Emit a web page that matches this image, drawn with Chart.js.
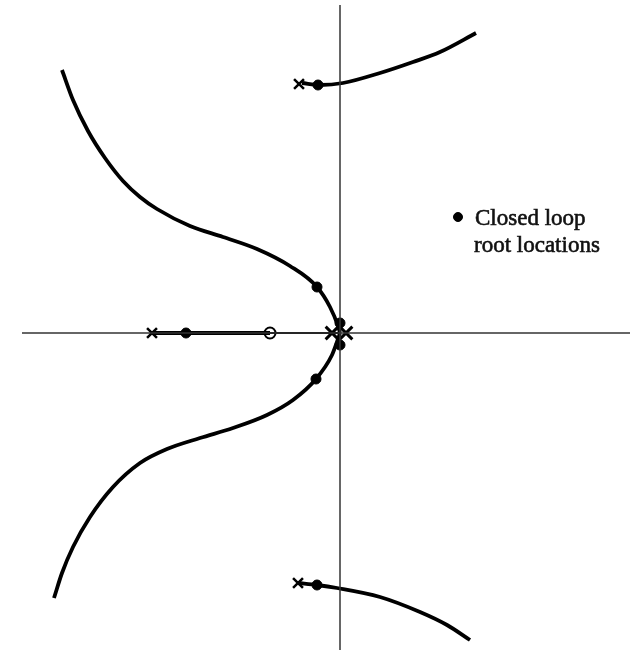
<!DOCTYPE html>
<html>
<head>
<meta charset="utf-8">
<script src="https://cdn.jsdelivr.net/npm/chart.js@4/dist/chart.umd.min.js"></script>
<style>
  body { margin: 0; background: #fff; }
  #lugar { display: block; }
</style>
</head>
<body>
<canvas id="lugar" width="632" height="657"></canvas>
<script>
// ejes del plano s (re, im)
const ejeReal = [{ x: -3.18, y: 0 }, { x: 2.90, y: 0 }];
const ejeImag = [{ x: 0, y: 3.28 }, { x: 0, y: -3.17 }];

// ramas que salen del polo doble en el origen
const ramaSup = [
    { x: -2.78, y: 2.63 }, { x: -2.67, y: 2.33 }, { x: -2.52, y: 2.02 }, { x: -2.35, y: 1.75 },
    { x: -2.17, y: 1.52 }, { x: -2.00, y: 1.36 }, { x: -1.83, y: 1.24 }, { x: -1.50, y: 1.07 },
    { x: -1.17, y: 0.96 }, { x: -0.83, y: 0.84 }, { x: -0.50, y: 0.67 }, { x: -0.23, y: 0.46 },
    { x: -0.10, y: 0.26 }, { x: -0.02, y: 0.07 }, { x: 0, y: 0 }
];
const ramaInf = [
    { x: -2.86, y: -2.65 }, { x: -2.78, y: -2.40 }, { x: -2.67, y: -2.14 }, { x: -2.50, y: -1.84 },
    { x: -2.27, y: -1.54 }, { x: -2.00, y: -1.30 }, { x: -1.73, y: -1.16 }, { x: -1.40, y: -1.05 },
    { x: -1.07, y: -0.95 }, { x: -0.73, y: -0.82 }, { x: -0.47, y: -0.67 }, { x: -0.24, y: -0.46 },
    { x: -0.08, y: -0.22 }, { x: -0.02, y: -0.06 }, { x: 0, y: 0 }
];

// ramas de los polos complejos
const ramaPoloSup = [
    { x: -0.38, y: 2.50 }, { x: -0.20, y: 2.48 }, { x: 0.03, y: 2.50 }, { x: 0.40, y: 2.60 },
    { x: 0.73, y: 2.71 }, { x: 1.00, y: 2.81 }, { x: 1.36, y: 3.00 }
];
const ramaPoloInf = [
    { x: -0.42, y: -2.50 }, { x: -0.23, y: -2.52 }, { x: -0.03, y: -2.55 }, { x: 0.40, y: -2.64 },
    { x: 0.80, y: -2.79 }, { x: 1.07, y: -2.92 }, { x: 1.30, y: -3.07 }
];

// tramos sobre el eje real
const tramoCero = [{ x: -1.88, y: 0 }, { x: -0.70, y: 0 }];
const tramoOrigen = [{ x: -0.70, y: 0 }, { x: 0, y: 0 }];

const polos = [
    { x: -1.88, y: 0 }, { x: -0.41, y: 2.49 }, { x: -0.42, y: -2.50 }
];
// polo doble en el origen
const polosOrigen = [{ x: -0.08, y: 0 }, { x: 0.06, y: 0 }];
const ceros = [{ x: -0.70, y: 0 }];
const raicesLazoCerrado = [
    { x: -1.54, y: 0 }, { x: -0.22, y: 2.48 }, { x: -0.23, y: -2.52 },
    { x: -0.23, y: 0.46 }, { x: -0.24, y: -0.46 }, { x: 0, y: 0.10 }, { x: 0, y: -0.12 }
];

const leyendaPunto = [{ x: 1.18, y: 1.16 }];
const leyendaTexto = ['Closed loop', 'root locations'];


function linea(data, ancho, color = '#000') {
    return {
        data: data,
        showLine: true,
        borderColor: color,
        borderWidth: ancho,
        pointRadius: 0,
        cubicInterpolationMode: 'monotone',
        fill: false
    };
}

// texto de la leyenda al lado del punto
const textoLeyenda = {
    id: 'textoLeyenda',
    afterDatasetsDraw(chart) {
        const ctx = chart.ctx;
        const px = chart.scales.x.getPixelForValue(leyendaPunto[0].x);
        const py = chart.scales.y.getPixelForValue(leyendaPunto[0].y);
        ctx.save();
        ctx.fillStyle = '#111';
        ctx.strokeStyle = '#111';
        ctx.lineWidth = 0.6;
        ctx.font = '23px "Liberation Serif", serif';
        ctx.textBaseline = 'alphabetic';
        ctx.fillText(leyendaTexto[0], px + 17, py + 8);
        ctx.strokeText(leyendaTexto[0], px + 17, py + 8);
        ctx.fillText(leyendaTexto[1], px + 16, py + 35);
        ctx.strokeText(leyendaTexto[1], px + 16, py + 35);
        ctx.restore();
    }
};

const ctx = document.getElementById('lugar');
const myChart = new Chart(ctx, {
    type: 'scatter',
    data: {
        datasets: [
            linea(ejeReal, 1.5, '#333'),
            linea(ejeImag, 1.5, '#333'),
            linea(ramaSup, 3.8),
            linea(ramaInf, 3.8),
            linea(ramaPoloSup, 3.8),
            linea(ramaPoloInf, 3.8),
            linea(tramoCero, 4),
            linea(tramoOrigen, 2),
            {
                data: polos,
                pointStyle: 'crossRot',
                pointRadius: 7,
                borderColor: '#000',
                borderWidth: 2.5
            },
            {
                data: polosOrigen,
                pointStyle: 'crossRot',
                pointRadius: 9,
                borderColor: '#000',
                borderWidth: 3
            },
            {
                data: ceros,
                pointStyle: 'circle',
                pointRadius: 5.5,
                backgroundColor: '#fff',
                borderColor: '#000',
                borderWidth: 2
            },
            {
                data: raicesLazoCerrado,
                pointStyle: 'circle',
                pointRadius: 5,
                backgroundColor: '#000',
                borderColor: '#000',
                borderWidth: 1
            },
            {
                data: leyendaPunto,
                pointStyle: 'circle',
                pointRadius: 4.5,
                backgroundColor: '#000',
                borderColor: '#000',
                borderWidth: 1
            }
        ]
    },
    options: {
        responsive: false,
        animation: false,
        layout: { padding: 0, autoPadding: false },
        plugins: {
            legend: { display: false },
            tooltip: { enabled: false }
        },
        scales: {
            x: { type: 'linear', display: false, min: -3.40, max: 2.92 },
            y: { type: 'linear', display: false, min: -3.24, max: 3.33 }
        }
    },
    plugins: [textoLeyenda]
});
</script>
</body>
</html>
